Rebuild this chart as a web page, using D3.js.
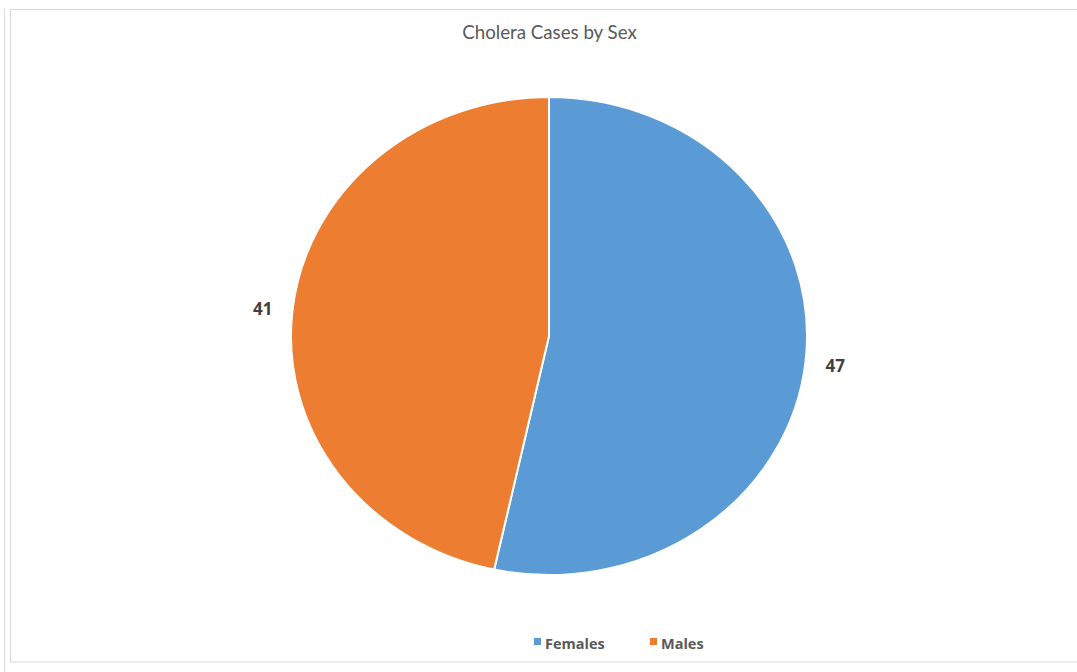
<!DOCTYPE html>
<html><head><meta charset="utf-8">
<script src="https://cdn.jsdelivr.net/npm/d3@7"></script>
<style>body{margin:0;background:#fff;} svg{display:block;}</style>
</head><body>
<svg id="c" width="1077" height="672"></svg>
<script>
const categories = ["Females", "Males"];
const values = [47, 41];
const colors = ["#5B9BD5", "#ED7D31"];
const title = "Cholera Cases by Sex";

const svg = d3.select("#c");
// frame
svg.append("line").attr("x1",4.5).attr("x2",4.5).attr("y1",9).attr("y2",672).attr("stroke","#d9d9d9");
svg.append("rect").attr("x",10.5).attr("y",9.5).attr("width",1080).attr("height",652.5)
  .attr("fill","#fff").attr("stroke","#d9d9d9");

svg.append("text").attr("x",549.5).attr("y",38.5).attr("text-anchor","middle")
  .attr("font-family","Lato, 'Open Sans', sans-serif").attr("font-size",18.7).attr("fill","#595959").text(title);

const cx = 549, cy = 336, rx = 258, ry = 239;
const pie = d3.pie().sort(null).value(d=>d)(values);
const arc = d3.arc().innerRadius(0).outerRadius(rx);
const g = svg.append("g").attr("transform",`translate(${cx},${cy}) scale(1,${ry/rx})`);
g.selectAll("path").data(pie).join("path")
  .attr("d",arc).attr("fill",(d,i)=>colors[i])
  .attr("stroke","#fff").attr("stroke-width",2).attr("vector-effect","non-scaling-stroke");

// labels outside
const labelArc = d3.arc().innerRadius(rx+30).outerRadius(rx+30);
pie.forEach((d,i)=>{
  const [x,y] = labelArc.centroid(d);
  svg.append("text").attr("x",cx + x).attr("y",cy + y*ry/rx + 1)
    .attr("text-anchor","middle").attr("dominant-baseline","central")
    .attr("font-family","'Open Sans', Lato, sans-serif").attr("font-weight","bold").attr("font-size",17)
    .attr("fill","#404040").text(values[i]);
});

// legend
const legX = [535, 651];
categories.forEach((c,i)=>{
  svg.append("rect").attr("x",legX[i]-1).attr("y",638).attr("width",7).attr("height",7).attr("fill",colors[i]);
  svg.append("text").attr("x",legX[i]+10).attr("y",648.5)
    .attr("font-family","'Open Sans', Lato, sans-serif").attr("font-weight","bold").attr("font-size",14.5)
    .attr("fill","#595959").text(c);
});
</script>
</body></html>
